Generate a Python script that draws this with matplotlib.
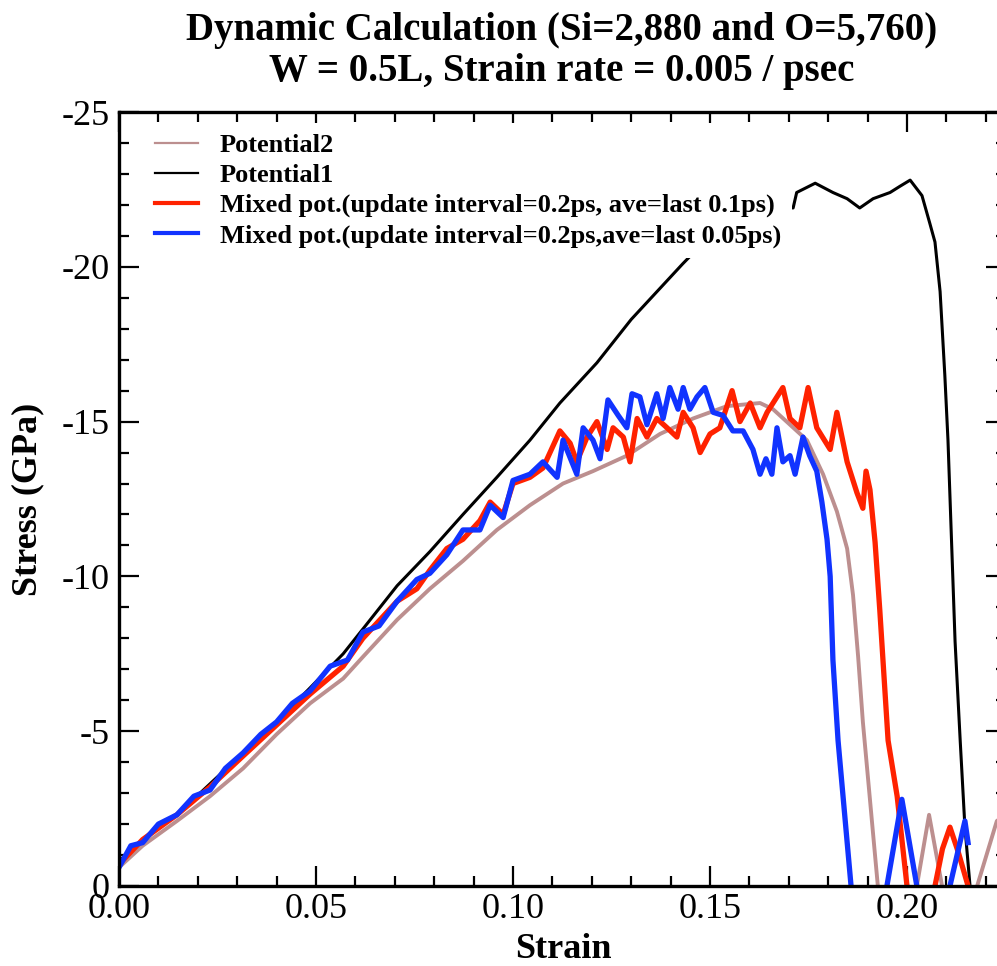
import matplotlib
matplotlib.use("Agg")
import matplotlib.pyplot as plt
from matplotlib.ticker import MultipleLocator, FormatStrFormatter

# =============================================================================
# Data (stress in GPa, compressive = negative)
# =============================================================================

pot2_strain = [0.0, 0.006, 0.0147, 0.0231, 0.0315, 0.040, 0.0485, 0.0569, 0.0619,
               0.0706, 0.0789, 0.0873, 0.0959, 0.1043, 0.1127, 0.1203, 0.1289,
               0.1373, 0.1457, 0.1543, 0.1627, 0.166, 0.1703, 0.1746, 0.1787,
               0.1822, 0.1848, 0.1863, 0.1876, 0.1888, 0.1926, 0.1975, 0.2025,
               0.2056, 0.2089, 0.2135, 0.2178, 0.2228, 0.225]
pot2_stress = [-0.6, -1.3, -2.1, -2.9, -3.8, -4.9, -5.9, -6.7, -7.4,
               -8.6, -9.6, -10.5, -11.5, -12.3, -13.0, -13.4, -13.9,
               -14.6, -15.1, -15.5, -15.6, -15.4, -14.9, -14.4, -13.3,
               -12.1, -10.9, -9.4, -7.4, -5.3, 0.0, 2.5, 0.0,
               -2.3, 0.0, 2.5, 0.0, -2.1, -2.3]

pot1_strain = [0.0, 0.006, 0.0147, 0.0231, 0.0315, 0.040, 0.0485, 0.0569, 0.0619,
               0.0706, 0.0789, 0.0873, 0.0959, 0.1043, 0.1119, 0.1213, 0.1300,
               0.1431, 0.150, 0.158, 0.165, 0.1711, 0.172, 0.1767, 0.1812,
               0.1848, 0.188, 0.1914, 0.1957, 0.1982, 0.2008, 0.2038, 0.2058,
               0.2071, 0.2084, 0.2096, 0.2104, 0.2122, 0.2135, 0.2147, 0.216]
pot1_stress = [-0.8, -1.5, -2.3, -3.3, -4.3, -5.3, -6.4, -7.5, -8.3,
               -9.7, -10.8, -12.0, -13.2, -14.4, -15.6, -16.9, -18.3,
               -20.1, -21.0, -21.8, -22.0, -21.9, -22.4, -22.7, -22.4,
               -22.2, -21.9, -22.2, -22.4, -22.6, -22.8, -22.3, -21.4,
               -20.8, -19.2, -16.5, -14.4, -7.9, -4.7, -1.9, 0.0]

mix01_strain = [0.0, 0.006, 0.0147, 0.0231, 0.0315, 0.040, 0.0485, 0.0569, 0.0619,
                0.0706, 0.0756, 0.0789, 0.0832, 0.0873, 0.0916, 0.0942, 0.0975,
                0.1000, 0.1043, 0.1076, 0.1119, 0.1145, 0.1162, 0.1188, 0.1213,
                0.1239, 0.1254, 0.128, 0.1297, 0.1315, 0.134, 0.1365, 0.1391,
                0.1416, 0.1432, 0.1457, 0.1475, 0.150, 0.1525, 0.1556, 0.1576,
                0.1602, 0.1627, 0.1645, 0.1685, 0.1703, 0.1728, 0.1749, 0.1771,
                0.1805, 0.1822, 0.1848, 0.1873, 0.1888, 0.1896, 0.1906, 0.1919,
                0.1931, 0.1939, 0.1952, 0.1975, 0.2000, 0.2035, 0.2071, 0.2090,
                0.2109, 0.2130, 0.2155, 0.2190]
mix01_stress = [-0.7, -1.5, -2.3, -3.2, -4.2, -5.2, -6.2, -7.1, -8.0,
                -9.2, -9.6, -10.2, -10.9, -11.2, -11.8, -12.4, -12.0,
                -13.0, -13.2, -13.5, -14.7, -14.3, -13.7, -14.5, -15.0,
                -14.1, -14.8, -14.5, -13.7, -15.1, -14.5, -15.1, -14.8,
                -14.5, -15.3, -14.8, -14.0, -14.6, -14.8, -16.0, -15.0,
                -15.6, -14.8, -15.3, -16.1, -15.1, -14.8, -16.1, -14.8,
                -14.1, -15.3, -13.7, -12.7, -12.2, -13.4, -12.8, -11.1,
                -8.9, -7.3, -4.7, -2.9, 0.0, 2.0, 0.0, -1.2,
                -1.9, -1.1, 0.0, 1.5]

mix005_strain = [0.0, 0.003, 0.006, 0.010, 0.0147, 0.019, 0.0231, 0.027, 0.0315,
                 0.036, 0.040, 0.044, 0.0485, 0.0536, 0.058, 0.0619, 0.066,
                 0.0706, 0.0756, 0.0789, 0.0832, 0.0873, 0.0916, 0.0942, 0.0975,
                 0.1000, 0.1043, 0.1076, 0.1112, 0.1127, 0.1162, 0.1178, 0.1203,
                 0.1221, 0.1241, 0.1267, 0.1289, 0.1302, 0.1322, 0.134, 0.1365,
                 0.1381, 0.1398, 0.1419, 0.1432, 0.1449, 0.1467, 0.1487, 0.1508,
                 0.1533, 0.1558, 0.1584, 0.1609, 0.1627, 0.1642, 0.1657, 0.1670,
                 0.1685, 0.1703, 0.1716, 0.1736, 0.1753, 0.1771, 0.1784, 0.1797,
                 0.1805, 0.1812, 0.1825, 0.1858, 0.1900, 0.1949, 0.1987, 0.2025,
                 0.2067, 0.2109, 0.2147, 0.2155]
mix005_stress = [-0.6, -1.3, -1.4, -2.0, -2.3, -2.9, -3.1, -3.8, -4.3,
                 -4.9, -5.3, -5.9, -6.3, -7.1, -7.3, -8.2, -8.4,
                 -9.2, -9.9, -10.1, -10.7, -11.5, -11.5, -12.3, -11.9,
                 -13.1, -13.3, -13.7, -13.2, -14.4, -13.3, -14.8, -14.4,
                 -13.8, -15.7, -15.2, -14.8, -15.9, -15.8, -14.9, -15.9,
                 -15.1, -16.1, -15.4, -16.1, -15.4, -15.8, -16.1, -15.3,
                 -15.2, -14.7, -14.7, -14.1, -13.3, -13.8, -13.3, -14.8,
                 -13.7, -13.9, -13.3, -14.5, -13.9, -13.4, -12.4, -11.2,
                 -10.0, -7.3, -4.7, 0.0, 2.5, 0.0, -2.8, 0.0,
                 2.5, 0.0, -2.1, -1.4]

labels = ["Potential2", "Potential1",
          "Mixed pot.(update interval=0.2ps, ave=last 0.1ps)",
          "Mixed pot.(update interval=0.2ps,ave=last 0.05ps)"]

# =============================================================================
# Plot
# =============================================================================

plt.rcParams["font.family"] = ["Liberation Serif", "DejaVu Serif"]
plt.rcParams["axes.unicode_minus"] = False

W, H = 997, 966
fig = plt.figure(figsize=(W / 100, H / 100), dpi=100)
ax = fig.add_axes([119 / W, (H - 886) / H, (1005.5 - 119) / W, (886 - 112) / H])

ax.plot(pot2_strain, pot2_stress, color="#bc8f8f", lw=2.8, label=labels[0])
ax.plot(pot1_strain, pot1_stress, color="black", lw=2.2, label=labels[1])
ax.plot(mix01_strain, mix01_stress, color="#ff2200", lw=3.8, label=labels[2])
ax.plot(mix005_strain, mix005_stress, color="#1133ff", lw=3.8, label=labels[3])

ax.set_xlim(0, 0.225)
ax.set_ylim(0, -25)

ax.xaxis.set_major_locator(MultipleLocator(0.05))
ax.xaxis.set_minor_locator(MultipleLocator(0.01))
ax.xaxis.set_major_formatter(FormatStrFormatter("%.2f"))
ax.yaxis.set_major_locator(MultipleLocator(5))
ax.yaxis.set_minor_locator(MultipleLocator(1))

for sp in ax.spines.values():
    sp.set_linewidth(2.4)

ax.tick_params(which="both", direction="in", top=True, right=True, width=1.6)
ax.tick_params(which="major", length=14.5, labelsize=26)
ax.tick_params(which="minor", length=7.2)
ax.tick_params(axis="x", pad=5)
ax.tick_params(axis="y", pad=7)

leg = ax.legend(loc="upper left", bbox_to_anchor=(0.0288, 0.986), borderaxespad=0,
                frameon=True, prop={"weight": "bold", "size": 19},
                handlelength=1.63, handletextpad=0.83, labelspacing=0.25,
                borderpad=0.4, fancybox=False)
leg.get_frame().set_edgecolor("none")
leg.get_frame().set_facecolor("white")
leg.get_frame().set_alpha(1.0)
for h, w in zip(leg.get_lines(), [1.6, 1.6, 3.0, 3.0]):
    h.set_linewidth(w)

fig.text(562 / W, 1 - 40 / H, "Dynamic Calculation (Si=2,880 and O=5,760)",
         ha="center", va="baseline", fontsize=28, fontweight="bold")
fig.text(562 / W, 1 - 81 / H, "W = 0.5L, Strain rate = 0.005 / psec",
         ha="center", va="baseline", fontsize=28, fontweight="bold")
fig.text(563 / W, 1 - 958 / H, "Strain", ha="center", va="baseline",
         fontsize=26, fontweight="bold")
fig.text(28 / W, 1 - 499 / H, "Stress (GPa)", ha="center", va="center",
         rotation=90, fontsize=26, fontweight="bold")

fig.savefig("out.png", dpi=100)
